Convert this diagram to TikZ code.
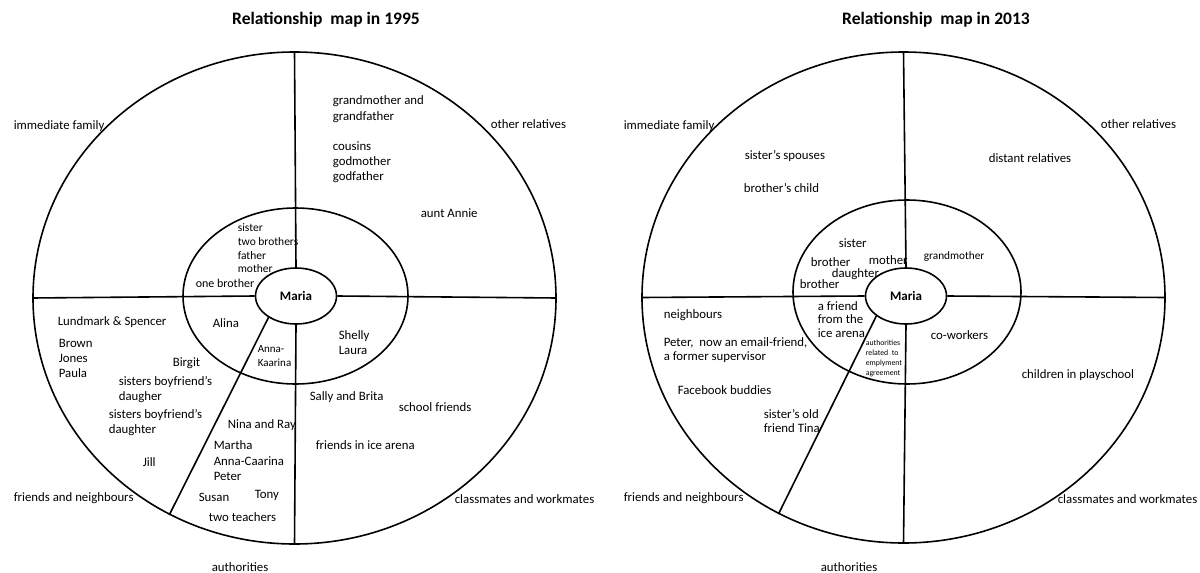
\documentclass[tikz,border=0pt]{standalone}
\usepackage{fontspec}
\setmainfont{Carlito}
\usetikzlibrary{shapes.geometric}
\tikzset{
  ring/.style={draw,ellipse,inner sep=0pt},
  lbl/.style={inner sep=0pt,anchor=west,align=left,font=\fontsize{12.8}{15}\selectfont},
  small/.style={lbl,font=\fontsize{11.5}{13.7}\selectfont},
  tiny/.style={lbl,font=\fontsize{7.8}{9.7}\selectfont},
  ttl/.style={inner sep=0pt,font=\fontsize{17.5}{20}\selectfont\bfseries},
  me/.style={ring,minimum width=81,minimum height=56,font=\fontsize{13}{15}\selectfont\bfseries},
}
\begin{document}
\begin{tikzpicture}[x=1pt,y=-1pt,line width=1.6pt]
\useasboundingbox (0,0) rectangle (1200,573);
% map 1995
\node[ttl] (titleL) at (326,20) {Relationship~ map in 1995};
\node[ring,minimum width=523,minimum height=492] (outerL) at (294.5,298) {};
\node[ring,minimum width=225,minimum height=176] (midL) at (295.5,296) {};
\node[me] (mariaL) at (296,296) {Maria};
\draw (mariaL.north) -- (outerL.north);
\draw (mariaL.south) -- (outerL.south);
\draw (mariaL.west) -- (outerL.west);
\draw (mariaL.east) -- (outerL.east);
\draw (mariaL.218) -- (outerL.240);

\node[lbl] (famL) at (13,126) {immediate family};
\node[lbl] (relL) at (490,124) {other relatives};
\node[lbl,font=\fontsize{12.8}{16}\selectfont] (gparL) at (332,109) {grandmother and\\grandfather};
\node[lbl] (cousL) at (332,162) {cousins\\godmother\\godfather};
\node[lbl] (auntL) at (420,213) {aunt Annie};
\node[small] (sibL) at (237,248.5) {sister\\two brothers\\father\\mother};
\node[lbl,font=\fontsize{12}{14}\selectfont] (broL) at (195,283) {one brother};
\node[lbl] (lundL) at (57,322) {Lundmark \& Spencer};
\node[lbl] (brownL) at (58,358) {Brown\\Jones\\Paula};
\node[lbl] (alinaL) at (212,323) {Alina};
\node[lbl,font=\fontsize{11}{14}\selectfont] (annaL) at (257,356) {Anna-\\Kaarina};
\node[lbl] (shellyL) at (338,342.5) {Shelly\\Laura};
\node[lbl] (birgitL) at (172,363) {Birgit};
\node[lbl] (sbdaL) at (118,389.5) {sisters boyfriend's\\daugher};
\node[lbl] (sbdbL) at (108,422.5) {sisters boyfriend's\\daughter};
\node[lbl] (jillL) at (142,462) {Jill};
\node[lbl] (fnL) at (13,498) {friends and neighbours};
\node[lbl] (ninaL) at (227,425) {Nina and Ray};
\node[lbl,font=\fontsize{12.8}{15.5}\selectfont] (marthaL) at (213,461) {Martha\\Anna-Caarina\\Peter};
\node[lbl] (susanL) at (198,497) {Susan};
\node[lbl] (tonyL) at (254,495) {Tony};
\node[lbl] (teachL) at (208,517) {two teachers};
\node[lbl] (sallyL) at (309,397) {Sally and Brita};
\node[lbl] (schoolL) at (398,407) {school friends};
\node[lbl] (iceL) at (315,445) {friends in ice arena};
\node[lbl] (cwL) at (454,499) {classmates and workmates};
\node[lbl] (authL) at (211,567) {authorities};

% map 2013
\node[ttl] (titleR) at (936,20) {Relationship~ map in 2013};
\node[ring,minimum width=523,minimum height=491] (outerR) at (903.5,297.5) {};
\node[ring,minimum width=228,minimum height=184] (midR) at (907,292) {};
\node[me] (mariaR) at (906,296) {Maria};
\draw (mariaR.north) -- (outerR.north);
\draw (mariaR.south) -- (outerR.south);
\draw (mariaR.west) -- (outerR.west);
\draw (mariaR.east) -- (outerR.east);
\draw (mariaR.214) -- (outerR.240);

\node[lbl] (famR) at (623,126) {immediate family};
\node[lbl] (relR) at (1100,124) {other relatives};
\node[lbl] (spouseR) at (744,156) {sister's spouses};
\node[lbl] (childR) at (743,188) {brother's child};
\node[lbl] (distR) at (988,158) {distant relatives};
\node[lbl] (sisR) at (838,243) {sister};
\node[lbl] (broaR) at (810,262) {brother};
\node[lbl] (motherR) at (868,260) {mother};
\node[lbl,font=\fontsize{11.3}{13}\selectfont] (grandR) at (923,257) {grandmother};
\node[lbl] (dauR) at (831,274) {daughter};
\node[lbl] (brobR) at (799,284) {brother};
\node[lbl] (neighR) at (663,315) {neighbours};
\node[lbl,font=\fontsize{12.8}{14.6}\selectfont] (peterR) at (663,350) {Peter,~ now an email-friend,\\a former supervisor};
\node[lbl] (fbR) at (677,390) {Facebook buddies};
\node[lbl,font=\fontsize{12.8}{14.5}\selectfont] (tinaR) at (763,421) {sister's old\\friend Tina};
\node[lbl,font=\fontsize{12.8}{13.5}\selectfont] (arenaR) at (817,319.5) {a friend\\from the\\ice arena};
\node[tiny] (agreeR) at (865,358.5) {authorities\\related~ to\\emplyment\\agreement};
\node[lbl] (cowR) at (930,335) {co-workers};
\node[lbl] (playR) at (1021,375) {children in playschool};
\node[lbl] (fnR) at (623,498) {friends and neighbours};
\node[lbl] (cwR) at (1057,499) {classmates and workmates};
\node[lbl] (authR) at (820,567) {authorities};
\end{tikzpicture}
\end{document}
